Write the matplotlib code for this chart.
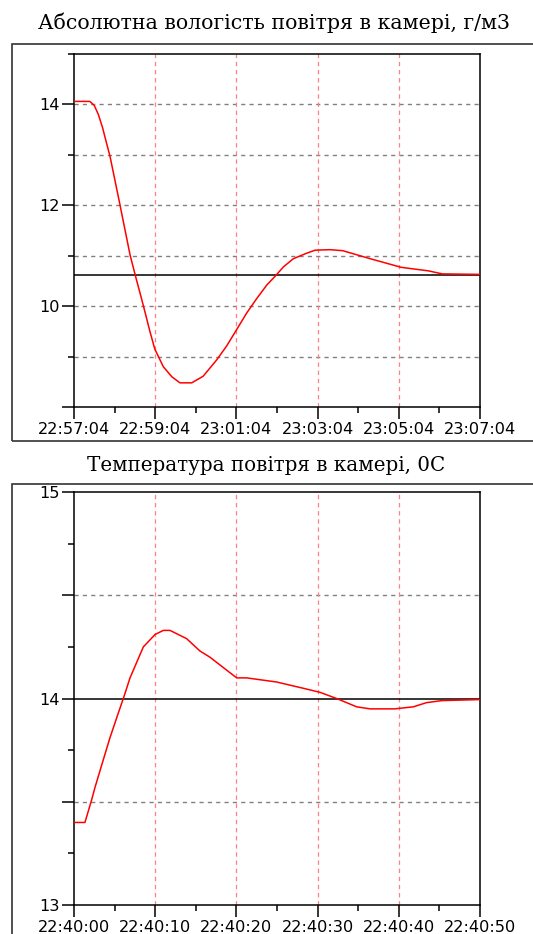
import matplotlib.pyplot as plt
from matplotlib.patches import Rectangle
from matplotlib.ticker import FixedLocator, FixedFormatter

# Абсолютна вологість (час у хвилинах від 22:57:04)
hum_t = [0, 0.39, 0.50, 0.60, 0.70, 0.89, 1.12, 1.38, 1.53, 1.63, 1.75, 1.87, 1.99, 2.20, 2.41,
         2.61, 2.90, 3.18, 3.51, 3.76, 4.01, 4.25, 4.50, 4.75, 4.95, 5.16, 5.40, 5.73, 5.94,
         6.30, 6.62, 7.30, 8.06, 8.73, 9.07, 10.0]
hum_v = [14.06, 14.06, 13.98, 13.80, 13.55, 12.96, 12.06, 11.02, 10.55, 10.25, 9.88, 9.50, 9.15,
         8.80, 8.60, 8.48, 8.48, 8.61, 8.93, 9.21, 9.54, 9.86, 10.15, 10.42, 10.59, 10.78,
         10.94, 11.05, 11.11, 11.12, 11.10, 10.94, 10.77, 10.70, 10.64, 10.63]
hum_setpoint = 10.62
hum_xticks = [0, 2, 4, 6, 8, 10]
hum_xlabels = ["22:57:04", "22:59:04", "23:01:04", "23:03:04", "23:05:04", "23:07:04"]
hum_xminor = [1, 3, 5, 7, 9]
hum_yticks = [8, 10, 12, 14]
hum_ylabels = ["", "10", "12", "14"]
hum_yminor = [9, 11, 13, 15]
hum_ygrid = [9, 10, 11, 12, 13, 14]

# Температура (час у секундах від 22:40:00)
temp_t = [0, 1.35, 2.18, 2.59, 3.2, 4.43, 5.46, 6.16, 6.90, 8.54, 9.98, 11.0, 11.82, 13.87,
          15.52, 16.75, 18.39, 20.04, 21.27, 24.96, 28.2, 30.3, 32.35, 34.8, 36.45, 39.5,
          41.8, 43.4, 45.3, 50]
temp_v = [13.40, 13.40, 13.51, 13.57, 13.65, 13.81, 13.93, 14.01, 14.10, 14.25, 14.31, 14.33,
          14.33, 14.29, 14.23, 14.20, 14.15, 14.10, 14.10, 14.08, 14.05, 14.03, 14.00, 13.96,
          13.95, 13.95, 13.96, 13.98, 13.99, 13.995]
temp_setpoint = 14.0
temp_xticks = [0, 10, 20, 30, 40, 50]
temp_xlabels = ["22:40:00", "22:40:10", "22:40:20", "22:40:30", "22:40:40", "22:40:50"]
temp_xminor = [5, 15, 25, 35, 45]
temp_yticks = [13, 13.5, 14, 14.5, 15]
temp_ylabels = ["13", "", "14", "", "15"]
temp_yminor = [13.25, 13.75, 14.25, 14.75]
temp_ygrid = [13.5, 14.5]

fig = plt.figure(figsize=(5.33, 9.34), dpi=100)

# рамки навколо графіків
fig.patches.append(Rectangle((0.0225, 0.528), 1.0, 0.425, transform=fig.transFigure,
                             fill=False, edgecolor="#333333", linewidth=1.2))
fig.patches.append(Rectangle((0.0225, -0.05), 1.0, 0.532, transform=fig.transFigure,
                             fill=False, edgecolor="#333333", linewidth=1.2))

fig.text(0.515, 0.976, "Абсолютна вологість повітря в камері, г/м3",
         ha="center", va="center", family="DejaVu Serif", fontsize=14.8)
fig.text(0.5, 0.502, "Температура повітря в камері, 0С",
         ha="center", va="center", family="DejaVu Serif", fontsize=14.3)


def setup(ax, t, v, setpoint, xlim, xticks, xlabels, xminor, ylim, yticks, ylabels, yminor, ygrid):
    ax.plot(t, v, color="red", linewidth=1.1, zorder=4)
    ax.axhline(setpoint, color="black", linewidth=1.1, zorder=3)
    for g in ygrid:
        ax.axhline(g, color="#808080", linestyle=(0, (3, 3)), linewidth=1.0, zorder=1)
    for g in xticks[1:-1]:
        ax.axvline(g, color="#ff8080", linestyle=(0, (3.5, 3)), linewidth=0.9, zorder=1)
    ax.set_xlim(*xlim)
    ax.set_ylim(*ylim)
    ax.xaxis.set_major_locator(FixedLocator(xticks))
    ax.xaxis.set_major_formatter(FixedFormatter(xlabels))
    ax.xaxis.set_minor_locator(FixedLocator(xminor))
    ax.yaxis.set_major_locator(FixedLocator(yticks))
    ax.yaxis.set_major_formatter(FixedFormatter(ylabels))
    ax.yaxis.set_minor_locator(FixedLocator(yminor))
    ax.tick_params(which="major", length=8.5, width=1.1, labelsize=11.6, pad=2)
    ax.tick_params(which="minor", length=4.3, width=1.1)
    for s in ax.spines.values():
        s.set_linewidth(1.1)


ax1 = fig.add_axes([0.1388, 0.5642, 0.7618, 0.378])
setup(ax1, hum_t, hum_v, hum_setpoint, (0, 10), hum_xticks, hum_xlabels, hum_xminor,
      (8, 15), hum_yticks, hum_ylabels, hum_yminor, hum_ygrid)

ax2 = fig.add_axes([0.1388, 0.031, 0.7618, 0.4422])
setup(ax2, temp_t, temp_v, temp_setpoint, (0, 50), temp_xticks, temp_xlabels, temp_xminor,
      (13, 15), temp_yticks, temp_ylabels, temp_yminor, temp_ygrid)

fig.savefig("out.png", dpi=100)
